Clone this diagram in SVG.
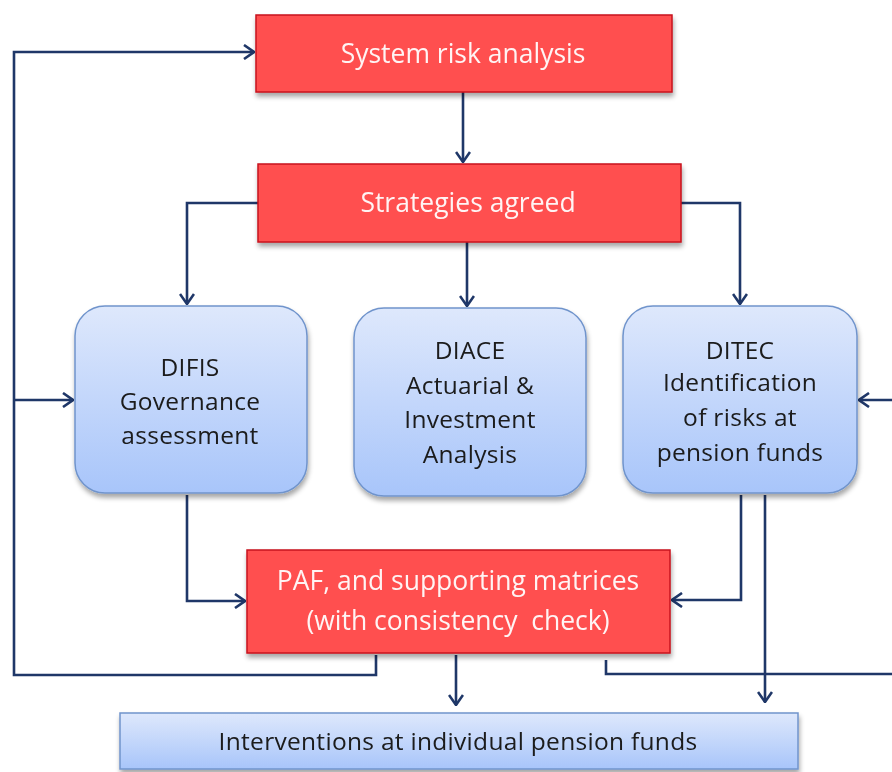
<svg xmlns="http://www.w3.org/2000/svg" width="892" height="772" viewBox="0 0 892 772">
<style>
.red{fill:#FF5050;stroke:#C8161D;stroke-width:1.5}
.blue{fill:url(#bg);stroke:#7094CC;stroke-width:1.5}
.rt{font-family:"Open Sans",Lato,sans-serif;fill:#FFF4F4;text-anchor:middle;font-size:26.5px}
.bt{font-family:"Open Sans",Lato,sans-serif;fill:#1A1A1A;text-anchor:middle;font-size:24.5px;letter-spacing:0.3px}
.c{fill:none;stroke:#1F3768;stroke-width:2.6;stroke-linejoin:miter}
</style>
<defs>
<linearGradient id="bg" x1="0" y1="0" x2="0" y2="1">
<stop offset="0" stop-color="#DEE8FC"/>
<stop offset="1" stop-color="#A8C5FA"/>
</linearGradient>
<filter id="sh" x="-10%" y="-10%" width="120%" height="130%">
<feGaussianBlur in="SourceAlpha" stdDeviation="2.5"/>
<feOffset dx="1" dy="4"/>
<feComponentTransfer><feFuncA type="linear" slope="0.35"/></feComponentTransfer>
<feMerge><feMergeNode/><feMergeNode in="SourceGraphic"/></feMerge>
</filter>
<marker id="a" viewBox="0 0 12 16" refX="11" refY="8" markerWidth="12" markerHeight="16" markerUnits="userSpaceOnUse" orient="auto">
<path d="M1,1 L11,8 L1,15" fill="none" stroke="#1F3768" stroke-width="2.6"/>
</marker>
</defs>
<g id="connectors">
<path class="c" d="M376,655 V675 H14 V52 H254" marker-end="url(#a)"/>
<path class="c" d="M14,400 H73" marker-end="url(#a)"/>
<path class="c" d="M463,92 V162" marker-end="url(#a)"/>
<path class="c" d="M258,203 H187 V304" marker-end="url(#a)"/>
<path class="c" d="M467,242 V306" marker-end="url(#a)"/>
<path class="c" d="M681,203 H740 V304" marker-end="url(#a)"/>
<path class="c" d="M187,495 V601 H245" marker-end="url(#a)"/>
<path class="c" d="M741,495 V600 H672" marker-end="url(#a)"/>
<path class="c" d="M765,495 V702" marker-end="url(#a)"/>
<path class="c" d="M456,655 V705" marker-end="url(#a)"/>
<path class="c" d="M606,660 V674 H892"/>
<path class="c" d="M892,400 H859" marker-end="url(#a)"/>
</g>
<g id="system-risk" filter="url(#sh)">
<rect class="red" x="256" y="15" width="416" height="77"/>
<text class="rt" x="463" y="63">System risk analysis</text>
</g>
<g id="strategies" filter="url(#sh)">
<rect class="red" x="258" y="164" width="423" height="78"/>
<text class="rt" x="468" y="212">Strategies agreed</text>
</g>
<g id="difis" filter="url(#sh)">
<rect class="blue" x="75" y="306" width="232" height="187" rx="30"/>
<text class="bt" x="190" y="376">DIFIS</text>
<text class="bt" x="190" y="410">Governance</text>
<text class="bt" x="190" y="444">assessment</text>
</g>
<g id="diace" filter="url(#sh)">
<rect class="blue" x="354" y="308" width="232" height="188" rx="30"/>
<text class="bt" x="470" y="359">DIACE</text>
<text class="bt" x="470" y="394">Actuarial &amp;</text>
<text class="bt" x="470" y="428">Investment</text>
<text class="bt" x="470" y="463">Analysis</text>
</g>
<g id="ditec" filter="url(#sh)">
<rect class="blue" x="623" y="306" width="234" height="187" rx="30"/>
<text class="bt" x="740" y="359">DITEC</text>
<text class="bt" x="740" y="391">Identification</text>
<text class="bt" x="740" y="426">of risks at</text>
<text class="bt" x="740" y="461">pension funds</text>
</g>
<g id="paf" filter="url(#sh)">
<rect class="red" x="247" y="550" width="423" height="103"/>
<text class="rt" x="458" y="590">PAF, and supporting matrices</text>
<text class="rt" x="458" y="630" style="white-space:pre">(with consistency  check)</text>
</g>
<g id="interventions" filter="url(#sh)">
<rect class="blue" x="120" y="713" width="678" height="56"/>
<text class="bt" x="458" y="750">Interventions at individual pension funds</text>
</g>
</svg>
